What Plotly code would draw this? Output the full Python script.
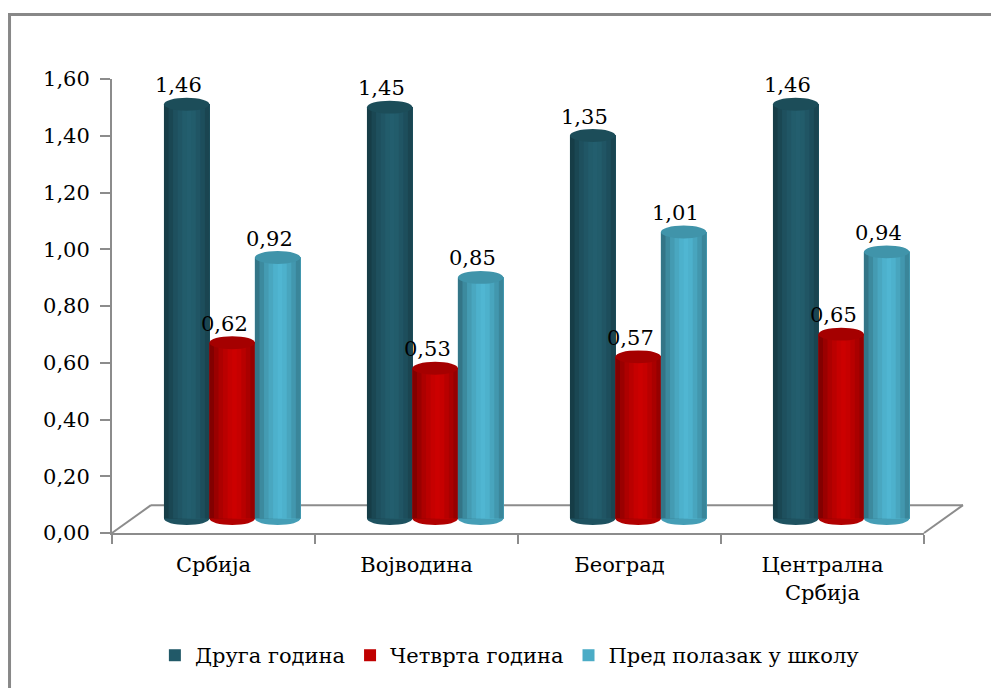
import plotly.graph_objects as go

# ---- data ----
categories = ["Србија", "Војводина", "Београд", "Централна<br>Србија"]
series_names = ["Друга година", "Четврта година", "Пред полазак у школу"]
druga_godina = [1.46, 1.45, 1.35, 1.46]
cetvrta_godina = [0.62, 0.53, 0.57, 0.65]
pred_polazak = [0.92, 0.85, 1.01, 0.94]
y_tick_values = [0.0, 0.2, 0.4, 0.6, 0.8, 1.0, 1.2, 1.4, 1.6]

series_values = [druga_godina, cetvrta_godina, pred_polazak]

# ---- styles ----
colors = [(33, 89, 104), (192, 0, 0), (75, 172, 198)]
bar_offsets = [-0.244, -0.02, 0.204]
bar_width = 0.224
profile = [0.68, 0.8, 0.9, 0.97, 1.03, 1.06, 1.03, 0.96, 0.88, 0.78]
FONT = "DejaVu Serif"
FS = 21
GRAY = "#8c8c8c"


def shade(rgb, f):
    r, g, b = (max(0, min(255, int(round(c * f)))) for c in rgb)
    return f"rgb({r},{g},{b})"


def fmt(v):
    return f"{v:.2f}".replace(".", ",")


fig = go.Figure()

fig.add_trace(go.Scatter(x=categories, y=[None] * len(categories), mode="none",
                         showlegend=False, hoverinfo="skip", yaxis="y"))

shapes = []
annotations = []
n = len(profile)
for i, (name, vals) in enumerate(zip(series_names, series_values)):
    off = bar_offsets[i]
    base_col = colors[i]
    fig.add_trace(go.Bar(
        x=categories, y=vals, name=name, yaxis="y2",
        offset=off, width=bar_width,
        marker=dict(color=shade(base_col, 1.0), line=dict(width=0)),
        hoverinfo="skip",
    ))
    for k, f in enumerate(profile):
        sw = bar_width * (n - k) / n
        so = off + bar_width * k / n
        fig.add_trace(go.Bar(
            x=categories, y=vals, yaxis="y2", showlegend=False,
            offset=so, width=sw,
            marker=dict(color=shade(base_col, f), line=dict(width=0)),
            hoverinfo="skip",
        ))
    for j, v in enumerate(vals):
        x0 = j + off
        x1 = j + off + bar_width
        shapes.append(dict(type="circle", xref="x", yref="y2",
                           x0=x0, x1=x1, y0=v - 0.0228, y1=v + 0.0228,
                           fillcolor=shade(base_col, 0.86), line=dict(width=0),
                           layer="above"))
        shapes.append(dict(type="circle", xref="x", yref="y2",
                           x0=x0, x1=x1, y0=-0.0228, y1=0.0228,
                           fillcolor=shade(base_col, 0.92), line=dict(width=0),
                           layer="below"))
        annotations.append(dict(x=j + off + bar_width / 2, y=v, xref="x", yref="y2",
                                text=fmt(v), showarrow=False, yanchor="bottom",
                                xanchor="center", yshift=5, xshift=-8,
                                font=dict(family=FONT, size=FS, color="black")))

floor_dx = 0.048
floor_dy = 0.0613
shapes += [
    dict(type="line", xref="paper", yref="paper", x0=floor_dx, y0=floor_dy,
         x1=1 + floor_dx, y1=floor_dy, line=dict(color=GRAY, width=2), layer="below"),
    dict(type="line", xref="paper", yref="paper", x0=0, y0=0,
         x1=floor_dx, y1=floor_dy, line=dict(color=GRAY, width=2), layer="below"),
    dict(type="line", xref="paper", yref="paper", x0=1, y0=0,
         x1=1 + floor_dx, y1=floor_dy, line=dict(color=GRAY, width=2), layer="below"),
    dict(type="rect", xref="paper", yref="paper", x0=-0.1262, x1=1.4,
         y0=-0.6, y1=1.1422, line=dict(color="#888888", width=3), layer="below"),
]

fig.update_layout(
    width=991, height=680, autosize=False,
    margin=dict(l=104, r=75, t=71, b=152),
    paper_bgcolor="white", plot_bgcolor="white",
    separators=",.",
    barmode="overlay",
    font=dict(family=FONT, size=FS, color="black"),
    xaxis=dict(type="category", range=[-0.5, 3.5], showgrid=False,
               showline=True, linecolor=GRAY, linewidth=2,
               ticks="outside", tickson="boundaries", ticklen=9,
               tickcolor=GRAY, tickwidth=2, ticklabelstandoff=12,
               tickfont=dict(family=FONT, size=FS, color="black"),
               zeroline=False),
    yaxis=dict(range=[0, 1.6], tickvals=y_tick_values, tickformat=".2f",
               showgrid=False, zeroline=False,
               showline=True, linecolor=GRAY, linewidth=2,
               ticks="outside", ticklen=10, tickcolor=GRAY, tickwidth=2,
               ticklabelstandoff=6,
               tickfont=dict(family=FONT, size=FS, color="black")),
    yaxis2=dict(overlaying="y", range=[-0.0508, 1.5492], visible=False),
    legend=dict(orientation="h", x=0.49, xanchor="center", y=-0.27,
                yanchor="middle", font=dict(family=FONT, size=FS, color="black"),
                traceorder="normal", itemsizing="constant"),
    shapes=shapes,
    annotations=annotations,
    showlegend=True,
)

fig.write_html("out.html")
